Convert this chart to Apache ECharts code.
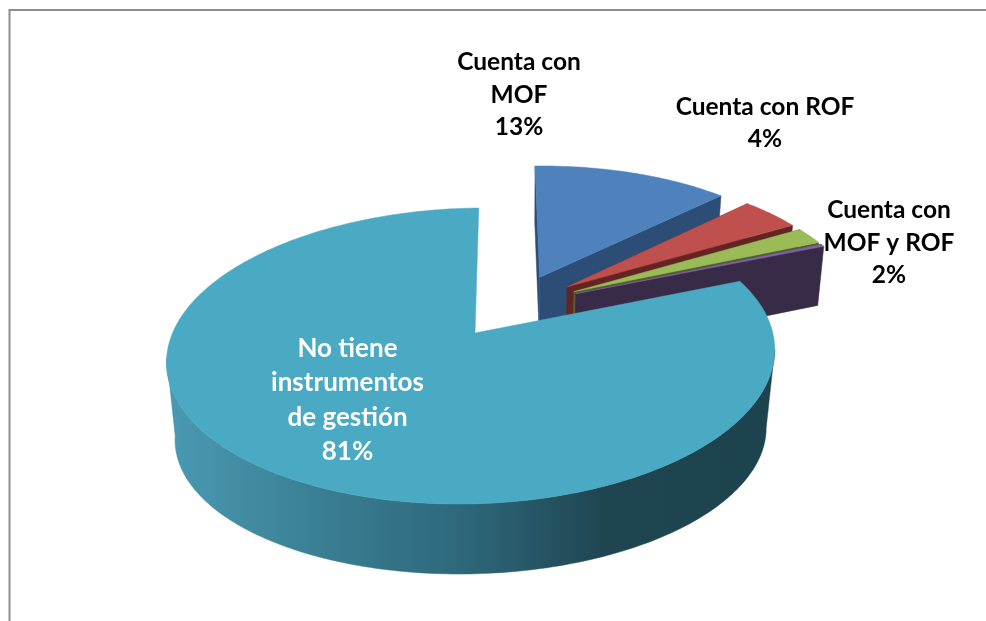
<!DOCTYPE html>
<html>
<head>
<meta charset="utf-8">
<style>html,body{margin:0;padding:0;background:#fff}#chart{width:986px;height:621px}</style>
<script src="https://cdn.jsdelivr.net/npm/echarts@6/dist/echarts.min.js"></script>
</head>
<body>
<div id="chart"></div>
<script>
// Slices in clockwise order, starting at twelve o'clock
const sliceNames = ['Cuenta con\nMOF', 'Cuenta con ROF', 'Cuenta con\nMOF y ROF', 'Otros', 'No tiene\ninstrumentos\nde gestión'];
const sliceValues = [13, 4, 2, 0.3, 81];
const showLabel = [true, true, true, false, true];

const topColors = ['#4f81bd', '#c0504d', '#9bbb59', '#8064a2', '#4aa9c3'];
const wallColors = ['#2c4d75', '#632523', '#4f6228', '#382b47', '#1f4551'];
const labelColors = ['#000000', '#000000', '#000000', '#000000', '#ffffff'];
const labelAnchors = [[519, 95], [765, 123], [889, 243], [0, 0], [347.5, 400]];
const labelFonts = ['bold 24.5px Lato', 'bold 24.5px Lato', 'bold 24.5px Lato', 'bold 24.5px Lato', 'bold 26px Lato'];

// Perspective model of the pie disc; plane units are pie radii,
// measured from the apex of the largest slice
const cam = { ax: 475, ay: 333, R: 300, H: 144.4, k: 0.155, m: 0.012, vx: 503, tilt: 4 };
const explode = 0.232;
const backDepth = { scaleX: 0.98, midX: 520, dy: 59, slope: 0.042, refY: 243 };
const frontDepth = { scaleX: 0.972, midX: 470, topY: 356, lowY: 434, scaleY: 0.946 };
const frontWallArc = [98, 262];

function project(u, v) {
  const w = 1 + cam.k * v + cam.m * u;
  return [cam.vx + (cam.ax - cam.vx + cam.R * u) / w, cam.ay - cam.H * v / w - cam.tilt * u];
}
function lowerBack(p) {
  const d = backDepth;
  return [d.midX + (p[0] - d.midX) * d.scaleX, p[1] + d.dy + d.slope * (p[1] - d.refY)];
}
function lowerFront(p) {
  const d = frontDepth;
  return [d.midX + (p[0] - d.midX) * d.scaleX, d.lowY + (p[1] - d.topY) * d.scaleY];
}
function dir(deg) {
  const a = deg * Math.PI / 180;
  return [Math.sin(a), Math.cos(a)];
}

const total = sliceValues.reduce((a, b) => a + b, 0);
const angles = [];
sliceValues.reduce((acc, v) => {
  const next = acc + v / total * 360;
  angles.push([acc, next]);
  return next;
}, 0);

// The largest slice sets the plane origin
const lastAngles = angles[angles.length - 1];
const lastDir = dir((lastAngles[0] + lastAngles[1]) / 2);
const origin = [-explode * lastDir[0], -explode * lastDir[1]];

function sliceApex(i) {
  const d = dir((angles[i][0] + angles[i][1]) / 2);
  return [origin[0] + explode * d[0], origin[1] + explode * d[1]];
}
function rimPoint(apex, deg) {
  const d = dir(deg);
  return project(apex[0] + d[0], apex[1] + d[1]);
}
function arc(apex, from, to) {
  const pts = [];
  const n = Math.max(2, Math.ceil(Math.abs(to - from)));
  for (let j = 0; j <= n; j++) pts.push(rimPoint(apex, from + (to - from) * j / n));
  return pts;
}

const frontWallFill = {
  type: 'linear', x: 166, y: 0, x2: 775, y2: 0, global: true,
  colorStops: [
    { offset: 0, color: '#4a9ab3' },
    { offset: 0.25, color: '#3a7f94' },
    { offset: 0.5, color: '#2d6678' },
    { offset: 0.72, color: '#1f4551' },
    { offset: 1, color: '#1d434e' }
  ]
};

function polygon(points, fill) {
  return {
    type: 'polygon',
    shape: { points: points },
    style: { fill: fill, stroke: fill, lineWidth: 0.5 }
  };
}

function renderSlice(params) {
  const i = params.dataIndex;
  const apex = sliceApex(i);
  const [from, to] = angles[i];
  const isFront = to - from > 180;
  const children = [];
  const apexTop = project(apex[0], apex[1]);
  const apexLow = lowerBack(apexTop);

  if (isFront) {
    // Outer wall, only the part that faces the viewer
    const rim = arc(apex, frontWallArc[0], frontWallArc[1]);
    children.push(polygon(rim.concat(rim.map(lowerFront).reverse()), frontWallFill));
  } else {
    // Radial walls on both sides of a back slice
    const a = rimPoint(apex, from);
    children.push(polygon([apexTop, a, lowerBack(a), apexLow], wallColors[i]));
    const b = rimPoint(apex, to);
    children.push(polygon([apexTop, b, lowerBack(b), apexLow], wallColors[i]));
  }
  children.push(polygon([apexTop].concat(arc(apex, from, to)), topColors[i]));

  if (showLabel[i]) {
    children.push({
      type: 'text',
      style: {
        text: sliceNames[i] + '\n' + sliceValues[i] + '%',
        x: labelAnchors[i][0],
        y: labelAnchors[i][1],
        align: 'center',
        verticalAlign: 'middle',
        fill: labelColors[i],
        font: labelFonts[i],
        lineHeight: i === 4 ? 34.5 : 32.5
      }
    });
  }
  return { type: 'group', children: children };
}

const chart = echarts.init(document.getElementById('chart'), null, { renderer: 'canvas' });
chart.setOption({
  animation: false,
  backgroundColor: '#ffffff',
  graphic: [{
    type: 'rect',
    silent: true,
    shape: { x: 9.5, y: 10, width: 1200, height: 900 },
    style: { fill: 'none', stroke: '#8e8e8e', lineWidth: 2 }
  }],
  series: [{
    type: 'custom',
    coordinateSystem: 'none',
    silent: true,
    renderItem: renderSlice,
    data: sliceValues.map((v, i) => ({ name: sliceNames[i], value: [v] }))
  }]
});
</script>
</body>
</html>
